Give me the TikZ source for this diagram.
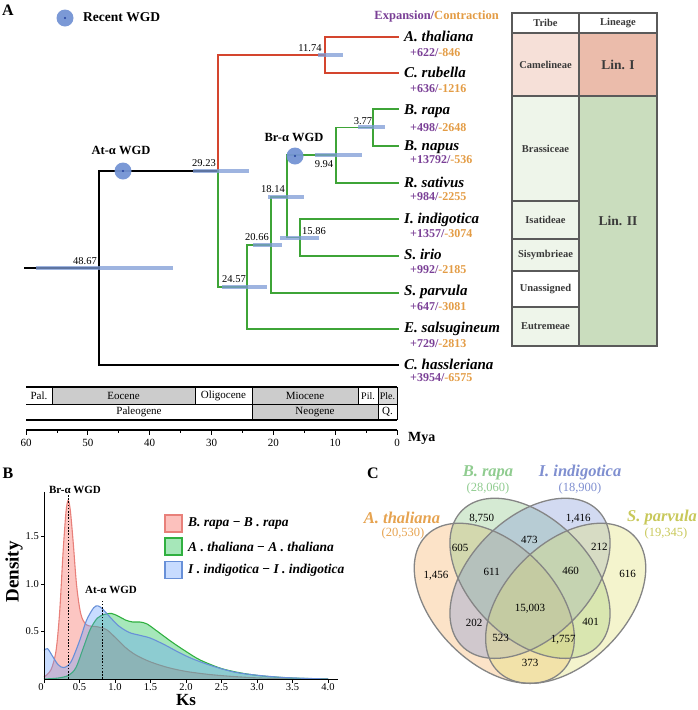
\documentclass[tikz,border=0pt]{standalone}
\usepackage{fontspec}
\setmainfont{Liberation Serif}
\definecolor{treered}{HTML}{D4452E}
\definecolor{treegreen}{HTML}{3EA437}
\definecolor{hpd}{HTML}{7E9BD6}
\definecolor{wgd}{HTML}{7494D4}
\definecolor{wgddot}{HTML}{1F3C9A}
\definecolor{expc}{HTML}{7A3F96}
\definecolor{conc}{HTML}{E39C45}
\definecolor{tborder}{HTML}{5A5A5A}
\definecolor{ttext}{HTML}{3A3A3A}
\definecolor{camel}{HTML}{F6E0D8}
\definecolor{lini}{HTML}{EBBCAB}
\definecolor{paleg}{HTML}{EEF5EA}
\definecolor{linii}{HTML}{CADDBE}
\definecolor{geogray}{HTML}{CCCCCC}
\definecolor{rline}{HTML}{E8807A}
\definecolor{rfill}{HTML}{F8766D}
\definecolor{gline}{HTML}{30B040}
\definecolor{gfill}{HTML}{00BA38}
\definecolor{bline}{HTML}{6890D8}
\definecolor{bfill}{HTML}{619CFF}
\definecolor{vA}{HTML}{F5B060}
\definecolor{vB}{HTML}{88C480}
\definecolor{vC}{HTML}{7F95D8}
\definecolor{vD}{HTML}{E0E070}
\definecolor{vAt}{HTML}{E6A350}
\definecolor{vBt}{HTML}{90CC90}
\definecolor{vCt}{HTML}{7F8FD0}
\definecolor{vDt}{HTML}{C8C85A}
\definecolor{vline}{HTML}{858585}
\begin{document}
\begin{tikzpicture}[x=1pt,y=-1pt,
  tline/.style={line width=1.8pt, line cap=rect},
  tb/.style={tline, black},
  tr/.style={tline, treered},
  tg/.style={tline, treegreen},
  hpdbar/.style={line width=4pt, hpd, opacity=0.75},
  sp/.style={font=\fontsize{15}{17}\selectfont\bfseries\itshape, anchor=west, inner sep=0pt, text height=9.5pt, text depth=0pt},
  nm/.style={font=\fontsize{12}{14}\selectfont\bfseries, anchor=west, inner sep=0pt, text height=8pt, text depth=0pt},
  nlab/.style={font=\fontsize{10.5}{12}\selectfont, inner sep=0pt, text height=7pt, text depth=0pt},
  wgdlab/.style={font=\fontsize{12.5}{14}\selectfont\bfseries, inner sep=0pt},
  wgdc/.style={circle, fill=wgd, fill opacity=0.95, minimum size=17pt, inner sep=0pt,
     path picture={\fill[wgddot] (path picture bounding box.center) circle (1.1pt);}},
  geo/.style={font=\fontsize{11}{12}\selectfont, inner sep=0pt},
  tcell/.style={draw=tborder, line width=1.3pt},
  ttxt/.style={font=\fontsize{10.5}{12}\selectfont\bfseries, text=ttext, inner sep=0pt},
  lintxt/.style={font=\fontsize{13.5}{15}\selectfont\bfseries, text=ttext, inner sep=0pt},
  panel/.style={font=\fontsize{16}{18}\selectfont\bfseries, inner sep=0pt},
  tick/.style={font=\fontsize{10.5}{12}\selectfont, inner sep=0pt},
  lgbox/.style={minimum width=17pt, minimum height=17pt, inner sep=0pt, line width=1.3pt},
  lgtxt/.style={font=\fontsize{13.5}{15}\selectfont\bfseries\itshape, anchor=west, inner sep=0pt},
  vnum/.style={font=\fontsize{11}{13}\selectfont, inner sep=0pt},
  vsp/.style={font=\fontsize{16.5}{18}\selectfont\bfseries\itshape, inner sep=0pt},
  vcount/.style={font=\fontsize{12.5}{14}\selectfont, inner sep=0pt},
  vring/.style={draw=vline, line width=1.3pt}
]
\useasboundingbox (0,0) rectangle (698,710);

% ================= Panel A =================
\node[panel] (labA) at (8,10) {A};
\node[wgdc] (legwgd) at (65,18) {};
\node[font=\fontsize{13.5}{15}\selectfont\bfseries, anchor=west, inner sep=0pt] (legtxt) at (83,17) {Recent WGD};
\node[font=\fontsize{12.5}{15}\selectfont\bfseries, anchor=east, inner sep=0pt] (hdr) at (499,16)
  {\textcolor{expc}{Expansion/}\textcolor{conc}{Contraction}};

% tree coordinates
\coordinate (root) at (25,268);
\coordinate (n48) at (99,268);
\coordinate (n29) at (218,171);
\coordinate (n11) at (325,55);
\coordinate (n24) at (247,287);
\coordinate (n20) at (271,245);
\coordinate (n18) at (287,197);
\coordinate (n9) at (336,155);
\coordinate (n3) at (373,127.5);
\coordinate (n15) at (300,237.5);
\coordinate (t_tha) at (398,37);
\coordinate (t_rub) at (398,73);
\coordinate (t_rap) at (398,109);
\coordinate (t_nap) at (398,146);
\coordinate (t_sat) at (398,183);
\coordinate (t_ind) at (398,219);
\coordinate (t_iri) at (398,256);
\coordinate (t_par) at (398,293);
\coordinate (t_sal) at (398,329);
\coordinate (t_has) at (398,365);

% branches
\draw[tb] (root) -- (n48);
\draw[tb] (n48) |- (n29);
\draw[tb] (n48) |- (t_has);
\draw[tr] (n29) |- (n11);
\draw[tr] (n11) |- (t_tha);
\draw[tr] (n11) |- (t_rub);
\draw[tg] (n29) |- (n24);
\draw[tg] (n24) |- (n20);
\draw[tg] (n24) |- (t_sal);
\draw[tg] (n20) |- (n18);
\draw[tg] (n20) |- (t_par);
\draw[tg] (n18) |- (n9);
\draw[tg] (n18) |- (n15);
\draw[tg] (n9) |- (n3);
\draw[tg] (n9) |- (t_sat);
\draw[tg] (n3) |- (t_rap);
\draw[tg] (n3) |- (t_nap);
\draw[tg] (n15) |- (t_ind);
\draw[tg] (n15) |- (t_iri);

% HPD bars
\draw[hpdbar] (36,268) -- (173,268);
\draw[hpdbar] (193,171) -- (249,171);
\draw[hpdbar] (318,55) -- (343,55);
\draw[hpdbar] (222,287) -- (267,287);
\draw[hpdbar] (253,245) -- (282,245);
\draw[hpdbar] (268,197) -- (304,197);
\draw[hpdbar] (280,238) -- (319,238);
\draw[hpdbar] (315,155) -- (362,155);
\draw[hpdbar] (358,127) -- (385,127);

% node ages
\node[nlab] (a48) at (85,261) {48.67};
\node[nlab] (a29) at (204,163) {29.23};
\node[nlab] (a11) at (310,48) {11.74};
\node[nlab] (a24) at (234,279) {24.57};
\node[nlab] (a20) at (257,237) {20.66};
\node[nlab] (a18) at (273,189) {18.14};
\node[nlab] (a15) at (314,231) {15.86};
\node[nlab] (a9) at (324,164) {9.94};
\node[nlab] (a3) at (363,121) {3.77};

% WGD events
\node[wgdc] (atwgd) at (123,171) {};
\node[wgdlab] (atlab) at (121,150) {At-α WGD};
\node[wgdc] (brwgd) at (295,156) {};
\node[wgdlab] (brlab) at (294,137) {Br-α WGD};

% species
\node[sp] (s_tha) at (404,37) {A. thaliana};
\node[sp] (s_rub) at (404,73) {C. rubella};
\node[sp] (s_rap) at (404,110) {B. rapa};
\node[sp] (s_nap) at (404,146) {B. napus};
\node[sp] (s_sat) at (404,183) {R. sativus};
\node[sp] (s_ind) at (404,219) {I. indigotica};
\node[sp] (s_iri) at (404,255) {S. irio};
\node[sp] (s_par) at (404,291) {S. parvula};
\node[sp] (s_sal) at (404,328) {E. salsugineum};
\node[sp] (s_has) at (404,365) {C. hassleriana};

\node[nm] (c_tha) at (410,52) {\textcolor{expc}{+622/}\textcolor{conc}{-846}};
\node[nm] (c_rub) at (410,88) {\textcolor{expc}{+636/}\textcolor{conc}{-1216}};
\node[nm] (c_rap) at (410,127) {\textcolor{expc}{+498/}\textcolor{conc}{-2648}};
\node[nm] (c_nap) at (410,159) {\textcolor{expc}{+13792/}\textcolor{conc}{-536}};
\node[nm] (c_sat) at (410,196) {\textcolor{expc}{+984/}\textcolor{conc}{-2255}};
\node[nm] (c_ind) at (410,233) {\textcolor{expc}{+1357/}\textcolor{conc}{-3074}};
\node[nm] (c_iri) at (410,269) {\textcolor{expc}{+992/}\textcolor{conc}{-2185}};
\node[nm] (c_par) at (410,306) {\textcolor{expc}{+647/}\textcolor{conc}{-3081}};
\node[nm] (c_sal) at (410,343) {\textcolor{expc}{+729/}\textcolor{conc}{-2813}};
\node[nm] (c_has) at (410,377) {\textcolor{expc}{+3954/}\textcolor{conc}{-6575}};

% table
\path[tcell, fill=white] (512,13) rectangle (579,33);
\path[tcell, fill=white] (579,13) rectangle (657,33);
\path[tcell, fill=camel] (512,33) rectangle (579,96);
\path[tcell, fill=lini] (579,33) rectangle (657,96);
\path[tcell, fill=paleg] (512,96) rectangle (579,201);
\path[tcell, fill=paleg] (512,201) rectangle (579,239);
\path[tcell, fill=paleg] (512,239) rectangle (579,271);
\path[tcell, fill=white] (512,271) rectangle (579,307);
\path[tcell, fill=paleg] (512,307) rectangle (579,346);
\path[tcell, fill=linii] (579,96) rectangle (657,346);
\node[ttxt] (h_tribe) at (545.5,23) {Tribe};
\node[ttxt] (h_lin) at (618,23) {Lineage};
\node[ttxt] (tr_cam) at (545.5,64.5) {Camelineae};
\node[ttxt] (tr_bra) at (545.5,148.5) {Brassiceae};
\node[ttxt] (tr_isa) at (545.5,220) {Isatideae};
\node[ttxt] (tr_sis) at (545.5,255) {Sisymbrieae};
\node[ttxt] (tr_una) at (545.5,289) {Unassigned};
\node[ttxt] (tr_eut) at (545.5,326.5) {Eutremeae};
\node[lintxt] (lin1) at (618,64.5) {Lin. I};
\node[lintxt] (lin2) at (618,221) {Lin. II};

% geological time scale
\fill[geogray] (52,387) rectangle (195,404);
\fill[geogray] (252,387) rectangle (358,404);
\fill[geogray!75] (378,387) rectangle (397,404);
\fill[geogray] (252,404) rectangle (378,420);
\draw[line width=1.4pt] (26,387) -- (397,387);
\draw[line width=0.8pt] (26,404) -- (397,404);
\draw[line width=1.4pt] (26,420) -- (397,420);
\draw[line width=0.9pt] (52,387) -- (52,404);
\draw[line width=0.9pt] (195,387) -- (195,404);
\draw[line width=0.9pt] (252,387) -- (252,420);
\draw[line width=0.9pt] (358,387) -- (358,404);
\draw[line width=0.9pt] (378,387) -- (378,420);
\draw[line width=0.9pt] (397,387) -- (397,420);
\node[geo] (g_pal) at (39,396) {Pal.};
\node[geo] (g_eoc) at (123.5,396) {Eocene};
\node[geo] (g_oli) at (223.5,396) {Oligocene};
\node[geo] (g_mio) at (305,396) {Miocene};
\node[geo,font=\fontsize{10}{11}\selectfont] (g_pli) at (368,396) {Pil.};
\node[geo,font=\fontsize{10}{11}\selectfont] (g_ple) at (387.5,396) {Ple.};
\node[geo] (g_palg) at (139,412) {Paleogene};
\node[geo] (g_neo) at (315,412) {Neogene};
\node[geo] (g_q) at (387.5,412) {Q.};
\draw[line width=1.2pt] (26,430) -- (397,430);
\foreach \m in {0,10,...,60} {
  \draw[line width=1pt] ({397-6.1833*\m},430) -- ++(0,4.5);
  \node[geo] at ({397-6.1833*\m},443) {\m};
}
\foreach \m in {5,15,...,55} {
  \draw[line width=0.8pt] ({397-6.1833*\m},430) -- ++(0,2.5);
}
\node[font=\fontsize{14}{16}\selectfont\bfseries, anchor=west, inner sep=0pt] (mya) at (408,438) {Mya};

% ================= Panel B =================
\node[panel] (labB) at (8,473) {B};
\begin{scope}[shift={(44,679)},x=71pt,y=95pt]
  \fill[rfill, fill opacity=0.42] (0,0) -- plot[smooth] coordinates {(0,0.02) (0.1,0.1) (0.17,0.3) (0.22,0.7) (0.27,1.35) (0.31,1.76) (0.34,1.88) (0.37,1.78) (0.41,1.45) (0.46,0.98) (0.52,0.68) (0.6,0.57) (0.75,0.55) (0.88,0.52) (1.0,0.44) (1.15,0.33) (1.3,0.25) (1.5,0.18) (1.75,0.12) (2.0,0.08) (2.3,0.05) (2.6,0.03) (3.0,0.012) (3.5,0.003) (4.0,0)} -- cycle;
  \draw[rline, line width=1.1pt] plot[smooth] coordinates {(0,0.02) (0.1,0.1) (0.17,0.3) (0.22,0.7) (0.27,1.35) (0.31,1.76) (0.34,1.88) (0.37,1.78) (0.41,1.45) (0.46,0.98) (0.52,0.68) (0.6,0.57) (0.75,0.55) (0.88,0.52) (1.0,0.44) (1.15,0.33) (1.3,0.25) (1.5,0.18) (1.75,0.12) (2.0,0.08) (2.3,0.05) (2.6,0.03) (3.0,0.012) (3.5,0.003) (4.0,0)};
  \fill[gfill, fill opacity=0.35] (0,0) -- plot[smooth] coordinates {(0,0) (0.2,0.01) (0.35,0.04) (0.45,0.12) (0.55,0.32) (0.65,0.52) (0.75,0.64) (0.85,0.68) (0.95,0.69) (1.05,0.66) (1.15,0.62) (1.25,0.6) (1.35,0.6) (1.45,0.58) (1.6,0.5) (1.8,0.39) (2.0,0.29) (2.2,0.2) (2.5,0.11) (2.8,0.06) (3.1,0.03) (3.5,0.01) (4.0,0)} -- cycle;
  \draw[gline, line width=1.1pt] plot[smooth] coordinates {(0,0) (0.2,0.01) (0.35,0.04) (0.45,0.12) (0.55,0.32) (0.65,0.52) (0.75,0.64) (0.85,0.68) (0.95,0.69) (1.05,0.66) (1.15,0.62) (1.25,0.6) (1.35,0.6) (1.45,0.58) (1.6,0.5) (1.8,0.39) (2.0,0.29) (2.2,0.2) (2.5,0.11) (2.8,0.06) (3.1,0.03) (3.5,0.01) (4.0,0)};
  \fill[bfill, fill opacity=0.35] (0,0) -- plot[smooth] coordinates {(0,0.3) (0.05,0.32) (0.12,0.24) (0.2,0.15) (0.28,0.12) (0.38,0.18) (0.5,0.4) (0.6,0.62) (0.7,0.75) (0.76,0.77) (0.82,0.74) (0.92,0.66) (1.05,0.56) (1.2,0.49) (1.35,0.46) (1.5,0.43) (1.7,0.36) (1.9,0.28) (2.1,0.21) (2.4,0.13) (2.7,0.07) (3.0,0.04) (3.4,0.015) (4.0,0)} -- cycle;
  \draw[bline, line width=1.1pt] plot[smooth] coordinates {(0,0.3) (0.05,0.32) (0.12,0.24) (0.2,0.15) (0.28,0.12) (0.38,0.18) (0.5,0.4) (0.6,0.62) (0.7,0.75) (0.76,0.77) (0.82,0.74) (0.92,0.66) (1.05,0.56) (1.2,0.49) (1.35,0.46) (1.5,0.43) (1.7,0.36) (1.9,0.28) (2.1,0.21) (2.4,0.13) (2.7,0.07) (3.0,0.04) (3.4,0.015) (4.0,0)};
  % WGD marks
  \draw[black, line width=1pt, dash pattern=on 1.6pt off 1.6pt] (0.34,0) -- (0.34,1.95);
  \draw[black, line width=1pt, dash pattern=on 1.6pt off 1.6pt] (0.83,0) -- (0.83,0.83);
  % axes
  \draw[line width=1pt] (0,1.97) -- (0,0) -- (4.14,0);
  \foreach \d in {0.5,1.0,1.5} {
    \draw[line width=0.9pt] (0,\d) -- ++(-3.5pt,0);
    \node[tick, anchor=east] at ([xshift=-5pt]0,\d) {\d};
  }
  \foreach \k in {0.5,1.0,1.5,2.0,2.5,3.0,3.5,4.0} {
    \draw[line width=0.9pt] (\k,0) -- ++(0,-3.5pt);
    \node[tick] at ([yshift=-8.5pt]\k,0) {\k};
  }
  \draw[line width=0.9pt] (0,0) -- ++(0,-3.5pt);
  \node[tick] at ([yshift=-8.5pt,xshift=-3pt]0,0) {0};
\end{scope}
\node[font=\fontsize{11}{12}\selectfont\bfseries, inner sep=0pt] (brB) at (75,490) {Br-α WGD};
\node[font=\fontsize{11}{12}\selectfont\bfseries, inner sep=0pt] (atB) at (111,590) {At-α WGD};
\node[font=\fontsize{19}{21}\selectfont\bfseries, rotate=90, inner sep=0pt] (dens) at (14,572) {Density};
\node[font=\fontsize{17}{19}\selectfont\bfseries, inner sep=0pt, text height=11.5pt, text depth=0pt] (ks) at (186,699.5) {Ks};
% legend
\node[lgbox, draw=rline, fill=rfill!45] (lgr) at (173.5,523.5) {};
\node[lgbox, draw=gline, fill=gfill!35] (lgg) at (173.5,546.5) {};
\node[lgbox, draw=bline, fill=bfill!35] (lgb) at (173.5,570) {};
\node[lgtxt] (lgrt) at (188,523.5) {B. rapa {\upshape −} B . rapa};
\node[lgtxt] (lggt) at (188,546.5) {A . thaliana {\upshape −} A . thaliana};
\node[lgtxt] (lgbt) at (188,570) {I . indigotica {\upshape −} I . indigotica};

% ================= Panel C =================
\node[panel] (labC) at (373,473) {C};
\fill[vA, fill opacity=0.35, rotate around={-45:(494.3,603.3)}] (494.3,603.3) ellipse [x radius=96pt, y radius=60pt];
\fill[vB, fill opacity=0.35, rotate around={-45:(530,578.3)}] (530,578.3) ellipse [x radius=96pt, y radius=60pt];
\fill[vC, fill opacity=0.35, rotate around={45:(530,578.3)}] (530,578.3) ellipse [x radius=96pt, y radius=60pt];
\fill[vD, fill opacity=0.35, rotate around={45:(565.7,603.3)}] (565.7,603.3) ellipse [x radius=96pt, y radius=60pt];
\draw[vring, rotate around={-45:(494.3,603.3)}] (494.3,603.3) ellipse [x radius=96pt, y radius=60pt];
\draw[vring, rotate around={-45:(530,578.3)}] (530,578.3) ellipse [x radius=96pt, y radius=60pt];
\draw[vring, rotate around={45:(530,578.3)}] (530,578.3) ellipse [x radius=96pt, y radius=60pt];
\draw[vring, rotate around={45:(565.7,603.3)}] (565.7,603.3) ellipse [x radius=96pt, y radius=60pt];

\node[vsp, text=vBt] (v_rap) at (488,473) {B. rapa};
\node[vcount, text=vBt] (v_rapn) at (488,488) {(28,060)};
\node[vsp, text=vCt] (v_ind) at (580,473) {I. indigotica};
\node[vcount, text=vCt] (v_indn) at (580,488) {(18,900)};
\node[vsp, text=vAt] (v_tha) at (402,518) {A. thaliana};
\node[vcount, text=vAt] (v_than) at (403,533) {(20,530)};
\node[vsp, text=vDt] (v_par) at (662,518) {S. parvula};
\node[vcount, text=vDt] (v_parn) at (666,533) {(19,345)};

\node[vnum] (r1) at (481.7,518.3) {8,750};
\node[vnum] (r2) at (578.3,518.3) {1,416};
\node[vnum] (r3) at (436,576) {1,456};
\node[vnum] (r4) at (627.7,574) {616};
\node[vnum] (r5) at (460,548.3) {605};
\node[vnum] (r6) at (529.3,540) {473};
\node[vnum] (r7) at (599.3,547.3) {212};
\node[vnum] (r8) at (491.7,571.7) {611};
\node[vnum] (r9) at (570.7,571) {460};
\node[vnum] (r10) at (530,608.3) {15,003};
\node[vnum] (r11) at (474,622.7) {202};
\node[vnum] (r12) at (590.7,621.7) {401};
\node[vnum] (r13) at (500.7,638.3) {523};
\node[vnum] (r14) at (563.3,639.3) {1,757};
\node[vnum] (r15) at (530,662.7) {373};
\end{tikzpicture}
\end{document}
